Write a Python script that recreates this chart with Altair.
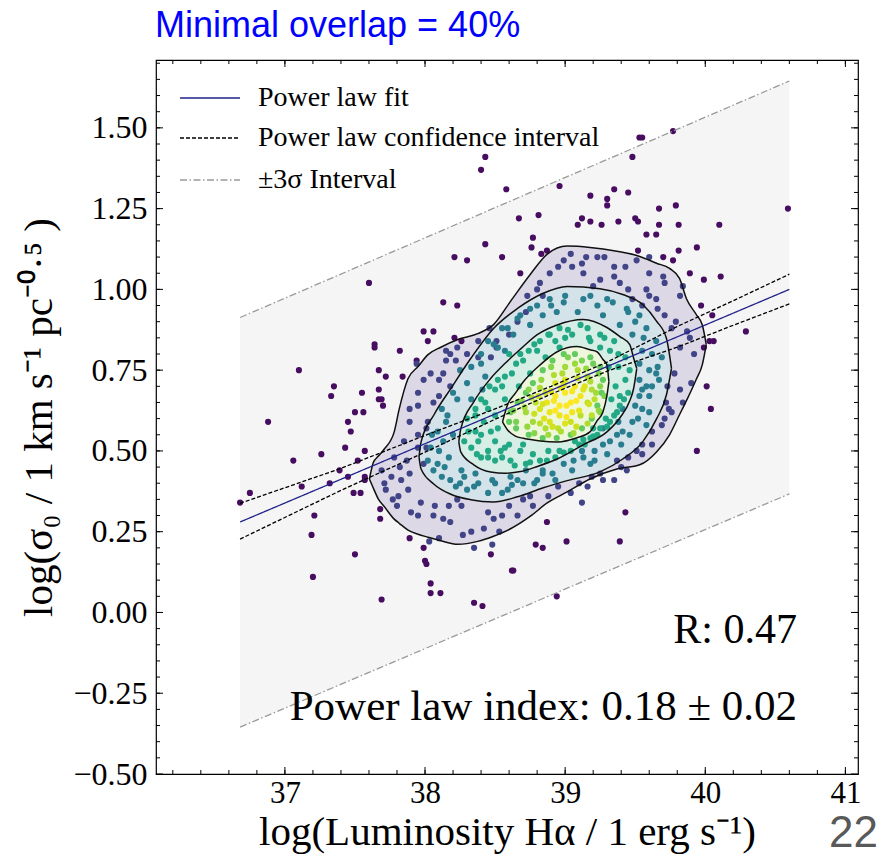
import altair as alt
import pandas as pd

SERIF = "Liberation Serif"
SANS = "Liberation Sans"

# ---------------- scatter points ----------------
# outside the outermost density contour
out_x = [38.43,38.40,38.58,38.43,38.21,38.30,38.55,37.60,38.13,38.23,37.99,38.06,38.02,37.64,37.64,37.82,38.21,38.26,37.94,
         39.53,39.55,39.77,39.48,38.96,39.18,39.30,39.30,39.35,39.45,39.67,39.79,40.59,38.67,38.81,39.09,39.12,39.18,39.26,
         39.38,39.50,39.52,39.58,39.65,39.67,39.81,40.10,38.77,38.76,38.83,38.87,39.52,39.70,39.81,39.94,38.68,39.77,39.89,
         39.99,40.11,39.97,40.05,40.29,40.03,40.06,39.99,37.10,36.88,37.06,37.26,37.35,37.33,37.55,37.50,37.56,37.45,37.47,
         37.43,37.57,37.67,37.72,37.84,37.67,37.67,37.69,37.70,37.52,37.39,37.45,37.32,37.12,36.75,36.68,37.49,37.54,37.57,
         37.57,37.21,37.19,37.50,37.20,37.69,37.68,37.68,37.89,37.99,38.00,38.01,38.04,38.04,38.11,38.35,38.41,38.47,38.62,
         40.01,40.04,39.94,39.43,39.39,39.01,38.79,38.84,38.63,38.94,38.87]
out_y = [1.41,1.37,1.31,1.14,1.10,1.09,1.10,1.02,0.96,0.95,0.87,0.87,0.84,0.83,0.82,0.81,0.85,0.84,0.78,
         1.47,1.47,1.49,1.41,1.32,1.29,1.28,1.26,1.31,1.30,1.25,1.26,1.25,1.22,1.23,1.20,1.22,1.21,1.20,
         1.21,1.22,1.21,1.17,1.17,1.20,1.20,1.20,1.16,1.13,1.11,1.12,1.12,1.10,1.12,1.13,1.05,1.09,1.05,
         1.03,1.04,0.95,0.92,0.87,0.84,0.84,0.82,0.75,0.59,0.47,0.49,0.70,0.67,0.68,0.62,0.62,0.59,0.56,
         0.51,0.50,0.75,0.73,0.73,0.69,0.66,0.66,0.64,0.47,0.44,0.42,0.40,0.39,0.37,0.34,0.37,0.37,0.42,
         0.41,0.30,0.24,0.18,0.11,0.04,0.32,0.29,0.23,0.20,0.16,0.15,0.09,0.06,0.06,0.03,0.02,0.18,0.13,
         0.70,0.63,0.50,0.31,0.22,0.22,0.21,0.20,0.13,0.05,0.28]

# between outer and second contour
b1_x = [38.46,38.51,38.51,38.60,38.38,38.47,38.15,38.18,38.15,38.22,38.99,39.13,39.25,39.39,39.45,39.58,39.65,39.82,
        39.55,39.66,38.80,38.73,38.84,38.72,38.66,39.23,39.28,39.04,38.89,39.12,39.05,39.43,39.60,39.70,39.71,39.84,
        39.35,39.51,39.60,38.82,39.20,39.48,39.71,39.79,39.87,39.89,39.92,39.90,39.82,39.84,39.74,39.71,39.62,39.55,
        39.51,39.37,39.27,39.16,39.04,38.88,38.77,38.66,38.49,38.42,38.33,38.18,38.06,37.97,37.90,37.81,37.71,37.69,
        37.78,37.85,37.89,37.95,37.95,38.04,38.23,38.38,38.13,38.18,38.06,38.02,37.95,37.94,37.99,38.10,38.10,37.89,
        38.01,37.87,37.76,37.83,37.89,37.95,38.01,37.99,37.72,37.77,37.95,38.07,38.13,38.10,38.03,38.27,38.35,38.48,
        38.53,38.55,38.45,38.26,38.17,38.23,39.73,39.72,39.69,39.62,39.45,39.44,39.35,39.19,39.12,38.70,
        38.60,38.75,38.95,39.10,39.25,39.40,39.55,39.76,39.78,39.82,39.76,39.60,39.35,39.15,38.95,38.30,37.82,37.88,37.80]
b1_y = [0.88,0.84,0.82,0.86,0.79,0.79,0.81,0.80,0.78,0.78,1.09,1.05,1.03,1.02,1.00,1.00,0.97,0.98,
        0.95,0.94,1.00,0.98,0.98,0.93,0.90,1.10,1.10,1.11,1.05,1.08,1.07,1.07,1.10,1.04,1.02,1.01,
        1.07,1.09,1.05,1.02,1.01,0.97,0.92,0.90,0.87,0.85,0.80,0.71,0.69,0.65,0.63,0.60,0.56,0.52,
        0.50,0.47,0.41,0.39,0.37,0.36,0.33,0.30,0.29,0.26,0.25,0.28,0.30,0.34,0.31,0.36,0.40,0.44,
        0.48,0.53,0.59,0.64,0.68,0.74,0.82,0.84,0.74,0.70,0.65,0.59,0.55,0.77,0.72,0.72,0.67,0.63,
        0.57,0.47,0.42,0.41,0.43,0.51,0.51,0.46,0.38,0.35,0.30,0.33,0.29,0.23,0.22,0.24,0.20,0.21,
        0.25,0.30,0.31,0.33,0.33,0.35,0.70,0.65,0.58,0.52,0.48,0.44,0.41,0.42,0.34,0.35,
        0.33,0.36,0.39,0.40,0.43,0.45,0.49,0.62,0.74,0.82,0.88,0.98,1.04,1.10,1.07,0.80,0.45,0.38,0.33]

# between second and third contour
b2_x = [38.89,38.99,39.13,39.23,39.34,39.44,39.53,39.58,39.65,39.69,39.67,39.60,39.55,39.48,39.37,39.27,39.13,38.99,
        38.84,38.70,38.59,38.45,38.30,38.18,38.09,38.04,38.09,38.16,38.23,38.30,38.40,38.52,38.63,38.75,38.84,38.94,
        39.09,39.27,39.39,39.48,39.55,39.60,39.55,39.41,39.27,38.49,38.59,38.66,38.75,39.65,39.58,39.41,39.32,39.21,
        39.21,39.06,38.91,38.80,38.66,38.72,38.84,39.12,39.38,39.53,39.53,38.41,38.15,38.13,38.06,38.22,38.35,38.55,
        38.17,38.26,38.36,38.48,38.61,38.33,38.43,38.57,
        38.02,38.05,38.10,38.12,38.20,38.20,38.14,38.25,38.28,38.33,38.40,38.45,38.55,38.68,38.80,38.90,39.00,39.18,
        39.30,39.45,39.50,39.56,39.62,39.66,39.62,39.60,39.52,39.46,39.50,39.58,39.53,39.40,39.30,39.18,39.05,38.93,
        38.78,38.62,38.50,38.38,38.25,38.12]
b2_y = [0.97,0.96,0.97,0.95,0.96,0.94,0.92,0.88,0.84,0.79,0.72,0.67,0.63,0.59,0.55,0.52,0.48,0.46,
        0.43,0.40,0.38,0.37,0.38,0.41,0.46,0.51,0.56,0.61,0.66,0.71,0.77,0.82,0.86,0.89,0.92,0.93,
        0.93,0.92,0.89,0.86,0.81,0.75,0.69,0.63,0.57,0.83,0.88,0.91,0.94,0.74,0.58,0.56,0.53,0.50,
        0.47,0.47,0.43,0.41,0.41,0.44,0.44,0.50,0.59,0.67,0.72,0.69,0.59,0.53,0.44,0.39,0.39,0.37,
        0.48,0.44,0.43,0.41,0.42,0.66,0.73,0.81,
        0.47,0.55,0.50,0.63,0.68,0.55,0.45,0.75,0.42,0.76,0.80,0.84,0.88,0.92,0.95,0.95,0.98,0.98,
        0.97,0.93,0.90,0.85,0.80,0.76,0.70,0.62,0.60,0.55,0.64,0.70,0.77,0.52,0.49,0.46,0.44,0.41,
        0.40,0.395,0.40,0.40,0.40,0.42]

# between third and innermost contour
b3_x = [38.96,39.11,39.25,39.35,39.43,39.46,39.45,39.39,39.32,39.23,39.14,39.04,38.93,38.82,38.72,38.61,38.50,38.40,
        38.33,38.31,38.36,38.43,38.50,38.57,38.65,38.74,38.82,38.89,39.00,39.18,38.38,38.45,38.54,38.47,38.42,38.50,
        38.57,38.67,38.75,38.86,38.96,39.39,39.35,39.25,39.18,39.07,38.96,38.88,38.77,38.68,38.57,38.50,39.32,39.38,
        39.25,38.36,
        38.28,38.30,38.36,38.40,38.46,38.52,38.60,38.68,38.78,38.88,39.02,39.16,39.28,39.38,39.43,39.42,39.37,39.30,
        39.20,39.10,38.99,38.87,38.75,38.64,38.55,38.45,38.37,38.40,38.45,38.52,38.55,38.62,38.70,38.80,38.93,39.05,
        39.17,39.31,39.36,39.33,39.29,39.20,39.13,38.60,38.70]
b3_y = [0.88,0.89,0.86,0.84,0.79,0.75,0.68,0.64,0.59,0.55,0.52,0.50,0.48,0.47,0.46,0.47,0.47,0.48,
        0.51,0.56,0.61,0.65,0.69,0.73,0.77,0.81,0.84,0.86,0.85,0.84,0.53,0.50,0.50,0.56,0.59,0.61,
        0.66,0.70,0.74,0.79,0.82,0.67,0.61,0.57,0.54,0.53,0.50,0.50,0.49,0.50,0.51,0.53,0.81,0.76,
        0.82,0.56,
        0.53,0.60,0.63,0.66,0.70,0.72,0.80,0.80,0.83,0.86,0.875,0.88,0.85,0.80,0.72,0.66,0.62,0.575,
        0.545,0.52,0.495,0.47,0.465,0.455,0.48,0.48,0.49,0.55,0.63,0.57,0.70,0.74,0.78,0.81,0.84,0.86,
        0.85,0.76,0.70,0.66,0.60,0.57,0.535,0.52,0.52]

# just inside the innermost contour
in_x = [39.07,39.18,39.25,39.27,39.26,39.23,39.19,39.12,39.04,38.94,38.84,38.74,38.65,38.60,38.61,38.66,38.72,38.77,
        38.84,38.91,38.99]
in_y = [0.80,0.79,0.76,0.72,0.68,0.64,0.60,0.57,0.55,0.54,0.54,0.55,0.57,0.59,0.62,0.65,0.68,0.71,
        0.75,0.78,0.80]

# densest core, with its own density value
core_x = [39.00,39.09,39.16,39.19,39.16,39.11,39.04,38.95,38.86,38.77,38.72,38.79,38.86,38.93,39.00,39.07,39.11,39.04,
          38.96,38.89,38.82,39.00,38.93,39.05,39.14,39.21,38.87,38.81,38.96,38.89,
          39.02,39.12,39.20,38.90,38.98,39.07,39.15,39.24,38.83,38.92,38.99,39.09,39.18,39.25,38.74,38.82,38.90,38.97,
          39.05,39.13,39.22,39.28,38.69,38.76,38.84,38.92,39.01,39.08,39.17,39.24,38.63,38.71,38.78,38.85,38.93,39.01,
          39.10,39.19,39.25,38.65,38.73,38.82,38.91,39.00,39.08,39.16,38.78,38.88,38.97,39.06]
core_y = [0.76,0.75,0.73,0.69,0.65,0.61,0.59,0.57,0.57,0.59,0.62,0.65,0.68,0.71,0.72,0.70,0.67,0.65,
          0.64,0.62,0.63,0.68,0.67,0.62,0.70,0.66,0.65,0.67,0.61,0.59,
          0.79,0.78,0.77,0.76,0.74,0.77,0.755,0.74,0.72,0.735,0.705,0.725,0.715,0.70,0.69,0.695,0.685,0.695,
          0.685,0.69,0.68,0.67,0.655,0.665,0.645,0.655,0.64,0.655,0.645,0.625,0.625,0.635,0.615,0.60,0.625,0.605,
          0.625,0.61,0.62,0.59,0.575,0.585,0.575,0.585,0.575,0.585,0.555,0.55,0.56,0.555]
core_d = [0.86,0.88,0.88,0.88,0.90,0.90,0.92,0.90,0.88,0.86,0.86,0.90,0.92,0.94,0.95,0.98,0.98,1.00,
          1.00,0.97,0.94,1.00,0.99,0.98,0.95,0.90,0.97,0.93,0.97,0.94,
          0.80,0.80,0.78,0.82,0.88,0.85,0.84,0.80,0.84,0.88,0.94,0.92,0.88,0.82,0.82,0.88,0.95,0.97,
          0.99,0.95,0.86,0.80,0.82,0.88,0.94,0.99,1.00,1.00,0.93,0.85,0.80,0.86,0.92,0.95,1.00,0.99,
          0.96,0.90,0.82,0.80,0.84,0.90,0.93,0.95,0.92,0.88,0.82,0.86,0.88,0.86]

# density value shown by colour for each band
band_density = {"out": 0.03, "b1": 0.2, "b2": 0.42, "b3": 0.6, "in": 0.76}

# ---------------- density contours (x, lower y, upper y) ----------------
c1_x = [37.603,37.631,37.667,37.709,37.780,37.816,37.879,37.950,38.021,38.113,38.234,38.376,38.489,38.610,38.752,
        38.872,39.014,39.177,39.369,39.532,39.652,39.745,39.816,39.865,39.936,39.979,40.007]
c1_lo = [0.413,0.385,0.351,0.328,0.289,0.276,0.255,0.242,0.233,0.222,0.211,0.220,0.236,0.259,0.298,
         0.339,0.373,0.413,0.444,0.457,0.497,0.550,0.612,0.655,0.722,0.767,0.829]
c1_hi = [0.413,0.464,0.484,0.506,0.559,0.630,0.724,0.761,0.798,0.821,0.845,0.863,0.891,0.963,1.047,
         1.109,1.134,1.130,1.118,1.102,1.081,1.065,1.034,0.972,0.922,0.890,0.829]

c2_x = [37.957,37.972,38.064,38.184,38.326,38.489,38.660,38.844,39.014,39.248,39.411,39.553,39.652,39.723,39.759]
c2_lo = [0.481,0.444,0.397,0.366,0.349,0.342,0.358,0.386,0.408,0.435,0.475,0.528,0.599,0.674,0.755]
c2_hi = [0.481,0.528,0.612,0.693,0.786,0.879,0.941,0.988,1.009,1.002,0.984,0.953,0.902,0.848,0.755]

c3_x = [38.241,38.255,38.348,38.468,38.574,38.681,38.801,38.943,39.128,39.298,39.390,39.461,39.489,39.511]
c3_lo = [0.528,0.497,0.457,0.435,0.431,0.436,0.452,0.475,0.519,0.559,0.602,0.655,0.694,0.755]
c3_hi = [0.528,0.568,0.652,0.724,0.772,0.815,0.860,0.890,0.907,0.882,0.854,0.829,0.787,0.755]

c4_x = [38.553,38.589,38.645,38.702,38.823,38.943,39.085,39.177,39.227,39.270,39.298,39.312]
c4_lo = [0.590,0.565,0.546,0.539,0.531,0.528,0.541,0.559,0.593,0.621,0.671,0.714]
c4_hi = [0.590,0.643,0.679,0.714,0.767,0.807,0.823,0.813,0.807,0.783,0.767,0.714]

contour_fill = ["#ddd8e6", "#d4e2e9", "#d6eee5", "#eef6dc"]

# ---------------- fit, confidence interval, 3 sigma ----------------
fit_x = [36.68, 40.60]
fit_y = [0.28, 1.00]
ci_x = [36.68, 37.40, 38.00, 38.50, 38.90, 39.30, 39.80, 40.20, 40.60]
ci_hi = [0.338, 0.446, 0.548, 0.630, 0.700, 0.775, 0.885, 0.965, 1.047]
ci_lo = [0.227, 0.378, 0.496, 0.598, 0.676, 0.747, 0.821, 0.889, 0.955]
sig_x = [36.68, 40.60]
sig_hi = [0.913, 1.645]
sig_lo = [-0.355, 0.367]

SERIES = ["Power law fit", "Power law confidence interval", "±3σ Interval"]
SERIES_COLOR = ["#22228c", "#000000", "#9a9a9a"]
SERIES_DASH = [[1, 0], [4, 2], [7, 2.5, 1.5, 2.5]]

x_ticks = [37, 38, 39, 40, 41]
y_ticks = [-0.5, -0.25, 0.0, 0.25, 0.5, 0.75, 1.0, 1.25, 1.5]

R_text = "R: 0.47"
index_text = "Power law index: 0.18 ± 0.02"
title_text = "Minimal overlap = 40%"
page_text = "22"

# ---------------- build tables ----------------
pts = pd.concat([
    pd.DataFrame({"x": out_x, "y": out_y, "d": band_density["out"]}),
    pd.DataFrame({"x": b1_x, "y": b1_y, "d": band_density["b1"]}),
    pd.DataFrame({"x": b2_x, "y": b2_y, "d": band_density["b2"]}),
    pd.DataFrame({"x": b3_x, "y": b3_y, "d": band_density["b3"]}),
    pd.DataFrame({"x": in_x, "y": in_y, "d": band_density["in"]}),
    pd.DataFrame({"x": core_x, "y": core_y, "d": core_d}),
], ignore_index=True)

contours = [(c1_x, c1_lo, c1_hi), (c2_x, c2_lo, c2_hi), (c3_x, c3_lo, c3_hi), (c4_x, c4_lo, c4_hi)]
outline_rows = []
for k, (cx, clo, chi) in enumerate(contours):
    for xv, lo, hi in zip(cx, clo, chi):
        outline_rows.append({"x": xv, "y": lo, "part": f"c{k}lo"})
        outline_rows.append({"x": xv, "y": hi, "part": f"c{k}hi"})
outline_df = pd.DataFrame(outline_rows)

line_rows = []
for xv, yv in zip(fit_x, fit_y):
    line_rows.append({"x": xv, "y": yv, "s": SERIES[0], "part": "fit"})
for xv, hi, lo in zip(ci_x, ci_hi, ci_lo):
    line_rows.append({"x": xv, "y": hi, "s": SERIES[1], "part": "cihi"})
    line_rows.append({"x": xv, "y": lo, "s": SERIES[1], "part": "cilo"})
for xv, hi, lo in zip(sig_x, sig_hi, sig_lo):
    line_rows.append({"x": xv, "y": hi, "s": SERIES[2], "part": "sighi"})
    line_rows.append({"x": xv, "y": lo, "s": SERIES[2], "part": "siglo"})
line_df = pd.DataFrame(line_rows)

band_df = pd.DataFrame({"x": sig_x, "lo": sig_lo, "hi": sig_hi})

# ---------------- scales / axes ----------------
W, H = 702, 714
xs = alt.Scale(domain=[36.08, 41.09], nice=False, zero=False)
ys = alt.Scale(domain=[-0.5, 1.71], nice=False, zero=False)
xaxis = alt.Axis(values=x_ticks, format="d", ticks=False, domain=False, grid=False,
                 labelFont=SERIF, labelFontSize=31, labelColor="black", labelPadding=4,
                 title="log(Luminosity Hα / 1 erg s⁻¹)", titleFont=SERIF, titleFontSize=41,
                 titleFontWeight="normal", titleColor="black", titlePadding=4)
yaxis = alt.Axis(values=y_ticks, format=".2f", ticks=False, domain=False, grid=False,
                 labelFont=SERIF, labelFontSize=32, labelColor="black", labelPadding=9,
                 title="log(σ₀ / 1 km s⁻¹ pc⁻⁰·⁵ )", titleFont=SERIF, titleFontSize=41,
                 titleFontWeight="normal", titleColor="black", titlePadding=12)


def X(f):
    return alt.X(f, type="quantitative", scale=xs, axis=xaxis)


def Y(f):
    return alt.Y(f, type="quantitative", scale=ys, axis=yaxis)


layers = []
layers.append(alt.Chart(band_df).mark_area(color="#f5f5f5").encode(x=X("x"), y=Y("lo"), y2="hi"))
for k, (cx, clo, chi) in enumerate(contours):
    cdf = pd.DataFrame({"x": cx, "lo": clo, "hi": chi})
    layers.append(alt.Chart(cdf).mark_area(color=contour_fill[k], interpolate="monotone")
                  .encode(x=X("x"), y=Y("lo"), y2="hi"))

layers.append(alt.Chart(pts).mark_circle(size=38, opacity=1).encode(
    x=X("x"), y=Y("y"),
    fill=alt.Fill("d:Q", scale=alt.Scale(scheme="viridis", domain=[0, 1]), legend=None)))

layers.append(alt.Chart(outline_df).mark_line(color="#111111", strokeWidth=1.5, interpolate="monotone")
              .encode(x=X("x"), y=Y("y"), detail="part:N"))

layers.append(alt.Chart(line_df).mark_line(strokeWidth=1.3).encode(
    x=X("x"), y=Y("y"),
    color=alt.Color("s:N", scale=alt.Scale(domain=SERIES, range=SERIES_COLOR), legend=None),
    strokeDash=alt.StrokeDash("s:N", scale=alt.Scale(domain=SERIES, range=SERIES_DASH), legend=None),
    detail="part:N"))

# legend drawn inside the plot, top-left
legend_rows = [38, 78, 120]
for i, s in enumerate(SERIES):
    ldf = pd.DataFrame({"s": [s]})
    layers.append(alt.Chart(ldf).mark_rule(color=SERIES_COLOR[i], strokeDash=SERIES_DASH[i], strokeWidth=1.3)
                  .encode(x=alt.value(24), x2=alt.value(84), y=alt.value(legend_rows[i])))
    layers.append(alt.Chart(ldf).mark_text(font=SERIF, fontSize=28, align="left", baseline="middle",
                                           color="black")
                  .encode(text="s:N", x=alt.value(102), y=alt.value(legend_rows[i])))

# inward ticks on all four sides
x_minor = [round(36.2 + 0.2 * i, 2) for i in range(25)]
y_minor = [round(-0.45 + 0.05 * i, 2) for i in range(44)]
tx_maj = pd.DataFrame({"x": x_ticks})
tx_min = pd.DataFrame({"x": x_minor})
ty_maj = pd.DataFrame({"y": y_ticks})
ty_min = pd.DataFrame({"y": y_minor})
for df, ln in [(tx_maj, 7), (tx_min, 4)]:
    layers.append(alt.Chart(df).mark_rule(color="black", strokeWidth=1)
                  .encode(x=X("x"), y=alt.value(H), y2=alt.value(H - ln)))
    layers.append(alt.Chart(df).mark_rule(color="black", strokeWidth=1)
                  .encode(x=X("x"), y=alt.value(0), y2=alt.value(ln)))
for df, ln in [(ty_maj, 7), (ty_min, 4)]:
    layers.append(alt.Chart(df).mark_rule(color="black", strokeWidth=1)
                  .encode(y=Y("y"), x=alt.value(0), x2=alt.value(ln)))
    layers.append(alt.Chart(df).mark_rule(color="black", strokeWidth=1)
                  .encode(y=Y("y"), x=alt.value(W), x2=alt.value(W - ln)))

# annotations
layers.append(alt.Chart(pd.DataFrame({"t": [R_text]})).mark_text(
    font=SERIF, fontSize=42, align="right", baseline="alphabetic", color="black")
    .encode(text="t:N", x=alt.value(641), y=alt.value(583)))
layers.append(alt.Chart(pd.DataFrame({"t": [index_text]})).mark_text(
    font=SERIF, fontSize=43, align="right", baseline="alphabetic", color="black")
    .encode(text="t:N", x=alt.value(641), y=alt.value(660)))
layers.append(alt.Chart(pd.DataFrame({"t": [title_text]})).mark_text(
    font=SANS, fontSize=36, align="left", baseline="alphabetic", color="#0000ff")
    .encode(text="t:N", x=alt.value(-1), y=alt.value(-23)))
layers.append(alt.Chart(pd.DataFrame({"t": [page_text]})).mark_text(
    font=SANS, fontSize=44, align="right", baseline="alphabetic", color="#595959")
    .encode(text="t:N", x=alt.value(722), y=alt.value(787)))

chart = alt.layer(*layers).properties(
    width=W, height=H,
    padding={"left": 156, "top": 60, "right": 25, "bottom": 83},
    autosize=alt.AutoSizeParams(type="none"),
    background="white",
).configure_view(stroke="black", strokeWidth=1.2)

chart.save("out.html", embed_options={"renderer": "svg", "actions": False})
